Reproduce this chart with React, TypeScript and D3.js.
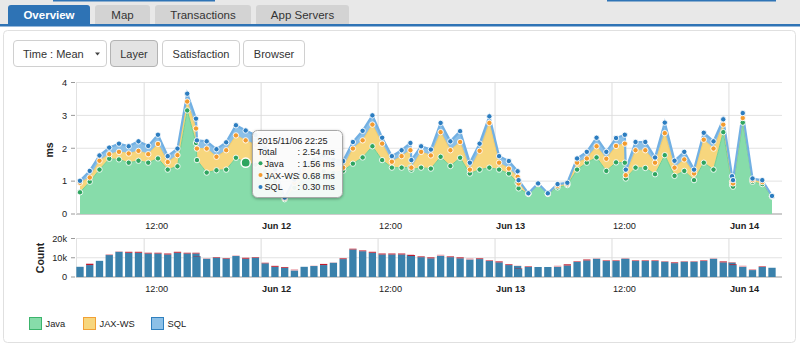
import React from 'react';
import * as d3 from 'd3';

// ---------- data ----------
const START = new Date(2015, 5, 11, 5, 25);
const hoursFromStart = [
  0, 1, 2, 3, 4, 5, 6, 7, 8, 9, 10, 11, 11.9, 12, 13, 14, 15, 16, 17, 18, 19, 20,
  21, 22, 23, 24, 25, 26, 27, 28, 29, 30, 31, 32, 33, 33.9, 34, 35, 36, 37, 38, 39,
  40, 41, 42, 43, 44, 44.9, 45, 46, 47, 48, 49, 50, 51, 52, 53, 54, 55, 55.9, 56, 57,
  58, 59, 60, 61, 62, 63, 64, 65, 66, 66.9, 67, 68, 69, 70, 71,
];
const javaMs = [
  0.66, 0.98, 1.35, 1.68, 1.66, 1.56, 1.62, 1.56, 1.69, 1.35, 1.45, 3.15, 2.16, 1.64, 1.26, 1.33, 1.35, 1.71, 1.56, 1.5, 1.3, 1.0,
  0.45, 0.8, 1.1, 1.2, 1.3, 1.25, 1.32, 1.53, 1.72, 2.06, 1.64, 1.41, 1.41, 1.42, 1.35, 1.41, 1.38, 1.74, 1.46, 1.71,
  1.23, 1.35, 1.41, 1.35, 1.23, 0.95, 0.78, 0.61, 0.91, 0.61, 0.81, 0.88, 1.35, 1.56, 1.72, 1.31, 1.57, 1.56, 1.08, 1.41,
  1.4, 1.21, 1.79, 1.16, 1.31, 1.03, 1.56, 1.35, 2.49, 0.88, 0.83, 2.78, 0.98, 0.91, 0.53,
];
const jaxwsMs = [
  0.29, 0.13, 0.27, 0.14, 0.23, 0.28, 0.3, 0.26, 0.44, 0.23, 0.34, 0.27, 0.44, 0.35, 0.73, 0.41, 0.59, 0.68, 0.68, 0.6, 0.45, 0.2,
  0.03, 0.15, 0.25, 0.3, 0.3, 0.25, 0.09, 0.46, 0.52, 0.66, 0.5, 0.18, 0.35, 0.52, 0.06, 0.48, 0.4, 0.75, 0.48, 0.48,
  0.12, 0.57, 1.36, 0.21, 0.15, 0.18, 0.15, 0.01, 0.01, 0.01, 0.05, 0.03, 0.21, 0.13, 0.34, 0.37, 0.5, 0.58, 0.1, 0.53,
  0.54, 0.35, 0.67, 0.25, 0.35, 0.2, 0.7, 0.64, 0.23, 0.1, 0.1, 0.14, 0.05, 0.06, 0.01,
];
const sqlMs = [
  0.06, 0.2, 0.16, 0.2, 0.25, 0.22, 0.29, 0.25, 0.28, 0.18, 0.2, 0.24, 0.3, 0.25, 0.22, 0.23, 0.24, 0.31, 0.3, 0.3, 0.25, 0.15,
  0.02, 0.1, 0.15, 0.15, 0.18, 0.15, 0.2, 0.2, 0.29, 0.28, 0.18, 0.17, 0.18, 0.22, 0.23, 0.17, 0.18, 0.28, 0.27, 0.33,
  0.21, 0.22, 0.2, 0.2, 0.23, 0.17, 0.1, 0.01, 0.01, 0.01, 0.05, 0.04, 0.13, 0.2, 0.26, 0.21, 0.24, 0.27, 0.17, 0.25,
  0.25, 0.16, 0.32, 0.21, 0.23, 0.12, 0.21, 0.22, 0.16, 0.17, 0.1, 0.15, 0.05, 0.06, 0.01,
];
const countNormal = [
  5300, 6200, 8400, 11400, 13100, 12600, 12600, 12200, 12200, 11700, 12600, 12200, 12200, 10700, 9500, 10000, 9500, 10900, 9500, 10000, 7100, 5300,
  4800, 3400, 5300, 5700, 6200, 7400, 9300, 14300, 13400, 12600, 11700, 11700, 11700, 11400, 10900, 10300, 9700, 11000, 10300, 9700,
  9100, 9300, 8300, 7600, 6200, 5700, 4300, 5200, 5200, 5200, 5300, 6000, 7800, 8600, 9500, 8300, 8300, 9500, 9500, 8300,
  8300, 8300, 7900, 7200, 7900, 7900, 8300, 9500, 7600, 7400, 6200, 5300, 3600, 5200, 4800,
];
const countError = [
  0, 700, 0, 200, 0, 500, 500, 400, 400, 500, 500, 400, 400, 200, 0, 300, 300, 0, 500, 300, 300, 500,
  400, 0, 0, 0, 600, 0, 400, 400, 400, 500, 500, 500, 500, 0, 500, 400, 500, 0, 400, 500,
  0, 400, 300, 500, 400, 0, 200, 300, 0, 0, 0, 600, 300, 500, 0, 300, 300, 0, 0, 300,
  300, 300, 200, 400, 200, 200, 300, 0, 500, 200, 400, 0, 0, 300, 0,
];
const countSlow = [
  0, 0, 0, 0, 300, 0, 0, 0, 0, 0, 0, 0, 0, 0, 300, 0, 0, 300, 0, 0, 0, 0,
  0, 600, 0, 200, 0, 200, 0, 0, 0, 0, 0, 0, 0, 300, 0, 0, 0, 600, 0, 0,
  600, 0, 0, 0, 0, 200, 0, 0, 0, 0, 600, 0, 0, 0, 300, 0, 0, 300, 300, 0,
  0, 0, 0, 0, 0, 0, 0, 300, 0, 0, 0, 600, 500, 0, 0,
];
const msTicks = [0, 1, 2, 3, 4];
const countTicks = [0, 10000, 20000];
const tabNames = ['Overview', 'Map', 'Transactions', 'App Servers'];
const buttonNames = ['Time : Mean', 'Layer', 'Satisfaction', 'Browser'];
const seriesNames = ['Java', 'JAX-WS', 'SQL'];
const tooltipTitle = '2015/11/06 22:25';
const tooltipIndex = 18; // row of 22:25

// ---------- styles ----------
const FONT = '"Liberation Sans", Arial, Helvetica, sans-serif';
const FILL = ['#87dcaa', '#f7d67d', '#8cc0e7'];
const DOT = ['#2ea560', '#f39b2e', '#2c7dc0'];
const LEG_STROKE = ['#3cb46c', '#f2a035', '#2f80bf'];

export default function App() {
  const rows = hoursFromStart.map((h, i) => ({
    date: new Date(START.getTime() + h * 3600e3),
    java: javaMs[i],
    jaxws: jaxwsMs[i],
    sql: sqlMs[i],
    normal: countNormal[i],
    error: countError[i],
    slow: countSlow[i],
  }));

  const x = d3
    .scaleTime()
    .domain([START, new Date(START.getTime() + 71 * 3600e3)])
    .range([80, 772]);
  const plotL = 76;
  const plotR = 782;
  const y = d3.scaleLinear().domain([0, 4]).range([214, 82.5]);
  const yc = d3.scaleLinear().domain([0, 20000]).range([277, 238.5]);

  const stacked = d3.stack<any>().keys(['java', 'jaxws', 'sql'])(rows);
  const area = d3
    .area<any>()
    .x((d) => x(d.data.date))
    .y0((d) => y(d[0]))
    .y1((d) => y(d[1]));
  const topLine = d3
    .line<any>()
    .x((d) => x(d.data.date))
    .y((d) => y(d[1]));

  const ticks = x.ticks(d3.timeHour.every(12) as any);
  const fmtTick = (d: Date) => (d.getHours() === 0 ? d3.timeFormat('%b %d')(d) : d3.timeFormat('%H:%M')(d));

  const hourW = x(new Date(START.getTime() + 3600e3)) - x(START);
  const barW = hourW * 0.75;

  const tipRow = rows[tooltipIndex];
  const tipTotal = tipRow.java + tipRow.jaxws + tipRow.sql;
  const tipVals = [tipRow.java, tipRow.jaxws, tipRow.sql];

  const tabX = [8, 95, 155, 256];
  const tabWd = [82, 55, 96, 93];
  const btnX = [13.5, 110.5, 162.5, 243.5];
  const btnWd = [93, 47, 77, 61];

  const xAxisLabels = (yy: number) =>
    ticks.map((t, i) => (
      <text
        key={i}
        x={x(t) + 1}
        y={yy}
        fontSize={9.2}
        fontWeight={t.getHours() === 0 ? 'bold' : 'normal'}
        fill="#222"
      >
        {fmtTick(t)}
      </text>
    ));

  return (
    <svg
      width={800}
      height={347}
      style={{ position: 'absolute', left: 0, top: 0, background: '#fff' }}
      fontFamily={FONT}
    >
      <defs>
        <filter id="shadow" x="-20%" y="-20%" width="140%" height="150%">
          <feDropShadow dx="0" dy="1" stdDeviation="1.5" floodColor="#000" floodOpacity="0.35" />
        </filter>
        <clipPath id="plotClip">
          <rect x={plotL} y={60} width={plotR - plotL} height={160} />
        </clipPath>
      </defs>

      {/* tab strip */}
      <rect x={0} y={0} width={800} height={25} fill="#e8e8e8" />
      <rect x={53} y={0} width={162} height={1.5} fill="#2f74b6" />
      <rect x={607} y={0} width={169} height={1.5} fill="#2f74b6" />
      {tabNames.map((t, i) => {
        const x0 = tabX[i];
        const w = tabWd[i];
        const active = i === 0;
        return (
          <g key={t}>
            <path
              d={`M${x0},25 V8 Q${x0},5 ${x0 + 3},5 H${x0 + w - 3} Q${x0 + w},5 ${x0 + w},8 V25 Z`}
              fill={active ? '#2e73b5' : '#d3d3d3'}
            />
            <text
              x={x0 + w / 2}
              y={19}
              textAnchor="middle"
              fontSize={11.5}
              fontWeight={active ? 'bold' : 'normal'}
              fill={active ? '#fff' : '#333'}
            >
              {t}
            </text>
          </g>
        );
      })}
      <rect x={0} y={24} width={800} height={2.5} fill="#2e73b5" />

      {/* panel */}
      <rect x={3.5} y={30.5} width={792} height={312} rx={4} fill="#fff" stroke="#e0e0e0" />

      {/* buttons */}
      {buttonNames.map((b, i) => {
        const active = i === 1;
        return (
          <g key={b}>
            <rect
              x={btnX[i]}
              y={40.5}
              width={btnWd[i]}
              height={26}
              rx={3.5}
              fill={active ? '#e3e3e3' : '#fff'}
              stroke={active ? '#b3b3b3' : '#d0d0d0'}
            />
            <text
              x={i === 0 ? btnX[i] + 9.5 : btnX[i] + btnWd[i] / 2}
              y={57.5}
              textAnchor={i === 0 ? 'start' : 'middle'}
              fontSize={11}
              fill="#333"
            >
              {b}
            </text>
          </g>
        );
      })}
      <path d="M95,52.5 L100,52.5 L97.5,55.5 Z" fill="#444" />

      {/* ---------- top chart ---------- */}
      {msTicks.map((t) => (
        <g key={t}>
          <line x1={plotL} x2={plotR} y1={y(t)} y2={y(t)} stroke={t === 0 ? '#999' : '#e2e2e2'} />
          <line x1={71} x2={75} y1={y(t)} y2={y(t)} stroke="#999" />
          <text x={67} y={y(t) + 3.3} textAnchor="end" fontSize={9.2} fill="#222">
            {t}
          </text>
        </g>
      ))}
      <line x1={plotL + 0.5} x2={plotL + 0.5} y1={y(4)} y2={y(0)} stroke="#e2e2e2" />
      {ticks.map((t, i) => (
        <line key={i} x1={x(t)} x2={x(t)} y1={y(4)} y2={y(0)} stroke="#dcdcdc" />
      ))}
      <text
        transform={`translate(${53},${150}) rotate(-90)`}
        textAnchor="middle"
        fontSize={10.5}
        fontWeight="bold"
        fill="#222"
      >
        ms
      </text>

      <g clipPath="url(#plotClip)">
        {stacked.map((s, i) => (
          <path key={s.key} d={area(s as any) || ''} fill={FILL[i]} stroke="none" />
        ))}
        <path d={topLine(stacked[0] as any) || ''} fill="none" stroke="#6fd196" strokeWidth={1} />
        <path d={topLine(stacked[1] as any) || ''} fill="none" stroke="#f3cc6a" strokeWidth={1} />
        <path d={topLine(stacked[2] as any) || ''} fill="none" stroke="#72b0e3" strokeWidth={2.2} />
        {stacked.map((s, i) =>
          s.map((d: any, j: number) => (
            <circle
              key={`${i}-${j}`}
              cx={x(d.data.date)}
              cy={y(d[1])}
              r={2.7}
              fill={DOT[i]}
              stroke="#fff"
              strokeWidth={0.9}
            />
          ))
        )}
        <circle
          cx={x(tipRow.date)}
          cy={y(tipRow.java)}
          r={4.6}
          fill={DOT[0]}
          stroke="#fff"
          strokeWidth={1.5}
        />
      </g>
      {xAxisLabels(229)}

      {/* tooltip */}
      <g>
        <rect
          x={252.5}
          y={130.5}
          width={90}
          height={67}
          rx={5}
          fill="#fff"
          fillOpacity={0.9}
          stroke="#a8a8a8"
          filter="url(#shadow)"
        />
        <text x={257.5} y={143.5} fontSize={9.1} fill="#222">
          {tooltipTitle}
        </text>
        <text x={257.5} y={155} fontSize={9.1} fill="#222">
          Total
        </text>
        <text x={297.5} y={155} fontSize={9.1} fill="#222">
          {`: ${tipTotal.toFixed(2)} ms`}
        </text>
        {seriesNames.map((n, i) => (
          <g key={n}>
            <circle cx={260.5} cy={163.3 + i * 11.8} r={2} fill={DOT[i]} />
            <text x={264.5} y={166.8 + i * 11.8} fontSize={9.1} fill="#222">
              {n}
            </text>
            <text x={297.5} y={166.8 + i * 11.8} fontSize={9.1} fill="#222">
              {`: ${tipVals[i].toFixed(2)} ms`}
            </text>
          </g>
        ))}
      </g>

      {/* ---------- bottom chart ---------- */}
      {countTicks.map((t) => (
        <g key={t}>
          <line x1={plotL} x2={plotR} y1={yc(t)} y2={yc(t)} stroke={t === 0 ? '#999' : '#e2e2e2'} />
          <line x1={71} x2={75} y1={yc(t)} y2={yc(t)} stroke="#999" />
          <text x={67} y={yc(t) + 3.3} textAnchor="end" fontSize={9.2} fill="#222">
            {d3.format('~s')(t)}
          </text>
        </g>
      ))}
      <line x1={plotL + 0.5} x2={plotL + 0.5} y1={yc(20000)} y2={yc(0)} stroke="#e2e2e2" />
      {ticks.map((t, i) => (
        <line key={i} x1={x(t)} x2={x(t)} y1={yc(20000)} y2={yc(0)} stroke="#dcdcdc" />
      ))}
      <text
        transform={`translate(${44},${258}) rotate(-90)`}
        textAnchor="middle"
        fontSize={10.5}
        fontWeight="bold"
        fill="#222"
      >
        Count
      </text>
      {rows.map((r, i) => {
        const cx = x(r.date);
        const b0 = yc(0);
        const b1 = yc(r.normal);
        const b2 = yc(r.normal + r.error);
        const b3 = yc(r.normal + r.error + r.slow);
        return (
          <g key={i}>
            <rect x={cx - barW / 2} y={b1} width={barW} height={b0 - b1} fill="#3a81ab" />
            {r.error > 0 && <rect x={cx - barW / 2} y={b2} width={barW} height={b1 - b2} fill="#c01a2c" />}
            {r.slow > 0 && <rect x={cx - barW / 2} y={b3} width={barW} height={b2 - b3} fill="#eca3ac" />}
          </g>
        );
      })}
      {xAxisLabels(292)}

      {/* legend */}
      {seriesNames.map((n, i) => {
        const lx = [29.5, 83.5, 151.5][i];
        return (
          <g key={n}>
            <rect x={lx} y={317.5} width={12} height={12} fill={FILL[i]} stroke={LEG_STROKE[i]} />
            <text x={lx + 16} y={327} fontSize={9.3} fill="#222">
              {n}
            </text>
          </g>
        );
      })}
    </svg>
  );
}
